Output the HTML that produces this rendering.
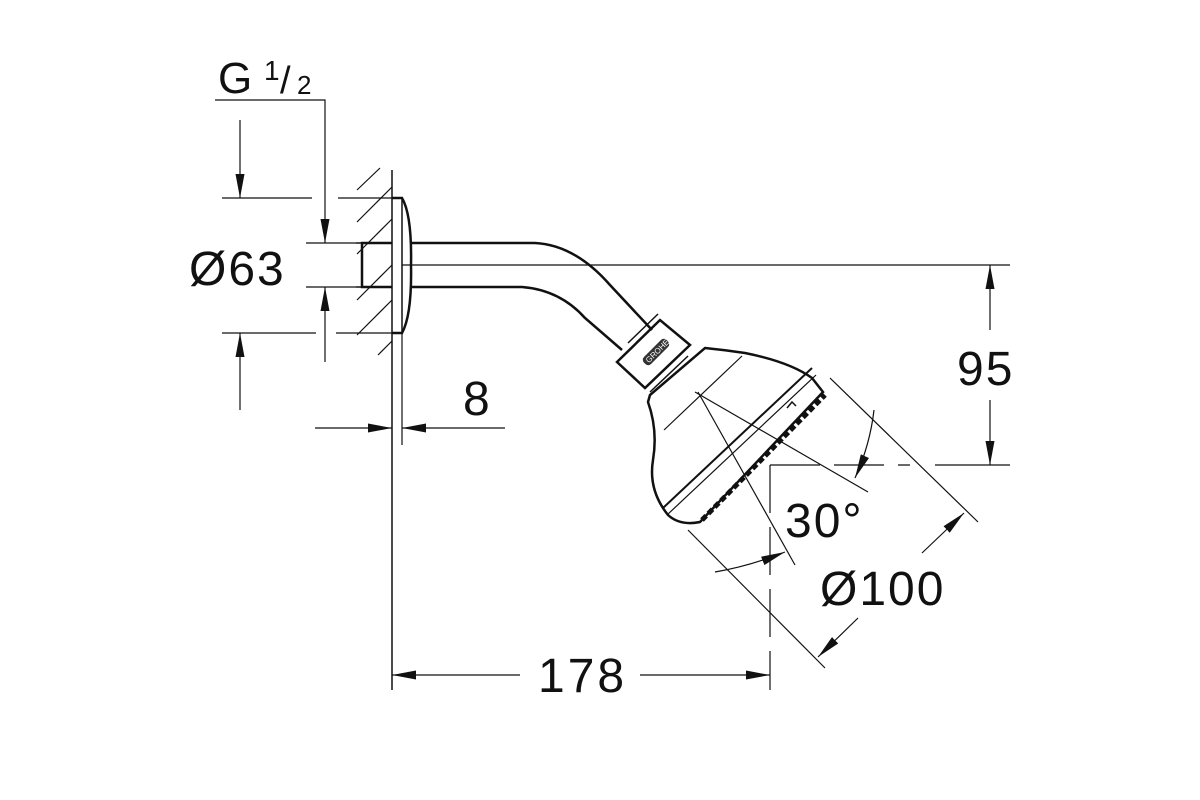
<!DOCTYPE html>
<html><head><style>
html,body{margin:0;padding:0;background:#fff;width:1200px;height:800px;overflow:hidden}
svg{display:block}
text{font-family:"Liberation Sans",sans-serif;fill:#111}
</style></head><body>
<svg width="1200" height="800" viewBox="0 0 1200 800">
<defs>
<marker id="a" viewBox="0 0 24 9" refX="24" refY="4.5" markerWidth="24" markerHeight="9" markerUnits="userSpaceOnUse" orient="auto"><path d="M0,0 L24,4.5 L0,9 Z" fill="#111"/></marker>
</defs>
<g stroke="#111" stroke-width="1.5" fill="none">
<line x1="392" y1="170" x2="392" y2="690"/>
<g stroke-width="1.2">
<line x1="357" y1="190" x2="380" y2="168"/>
<line x1="357" y1="222" x2="392" y2="187"/>
<line x1="357" y1="254" x2="392" y2="219"/>
<line x1="357" y1="300" x2="392" y2="265"/>
<line x1="357" y1="335" x2="392" y2="300"/>
<line x1="378" y1="355" x2="392" y2="341"/>
</g>
<path d="M392,243 L362,243 L362,287 L392,287" stroke-width="2.5"/>
<line x1="356" y1="243" x2="362" y2="243"/>
<line x1="356" y1="287" x2="362" y2="287"/>
<path d="M392,198 L402,198 Q412,215 411,265 Q412,315 402,333 L392,333" stroke-width="2.5"/>
<line x1="402" y1="198" x2="402" y2="333"/>
<path d="M411,243 L535,243 Q575,245 610,285 L652,330" stroke-width="2.5"/>
<path d="M411,287 L522,287 Q560,290 585,318 L622,350" stroke-width="2.5"/>
<path d="M617,362 L660,320 L690,345 L645,388 Z" stroke-width="2.5"/>
<line x1="628" y1="343" x2="658" y2="314"/>
<line x1="650" y1="392" x2="688" y2="356"/>
<path d="M648,402 L650,395 L705,348 Q725,350 745,353 Q790,362 812,378 L823,392 L700,522 Q680,526 668,515 Q648,490 653,460 Q658,430 648,402 Z" stroke-width="2.5"/>
<line x1="663" y1="508" x2="812" y2="368" stroke-width="2"/>
<line x1="667" y1="515" x2="816" y2="375" stroke-width="1.2"/>
<line x1="664" y1="430" x2="742" y2="356" stroke-width="1.2"/>
<path d="M702,520 L825,395" stroke-width="5" stroke-dasharray="6 3"/>
<path d="M787,408 l5,-6 l4,4" stroke-width="1.5"/>
<line x1="402" y1="265" x2="1010" y2="265" stroke-width="1.2"/>
<polyline points="215,100 325,100 325,243" stroke-width="1.2" marker-end="url(#a)"/>
<line x1="240" y1="120" x2="240" y2="198" stroke-width="1.2" marker-end="url(#a)"/>
<line x1="240" y1="410" x2="240" y2="333" stroke-width="1.2" marker-end="url(#a)"/>
<line x1="222" y1="198" x2="312" y2="198" stroke-width="1.2"/>
<line x1="338" y1="198" x2="392" y2="198" stroke-width="1.2"/>
<line x1="222" y1="333" x2="316" y2="333" stroke-width="1.2"/>
<line x1="336" y1="333" x2="392" y2="333" stroke-width="1.2"/>
<line x1="306" y1="243" x2="356" y2="243" stroke-width="1.2"/>
<line x1="306" y1="287" x2="356" y2="287" stroke-width="1.2"/>
<line x1="325" y1="362" x2="325" y2="287" stroke-width="1.2" marker-end="url(#a)"/>
<line x1="315" y1="428" x2="392" y2="428" stroke-width="1.2" marker-end="url(#a)"/>
<line x1="505" y1="428" x2="402" y2="428" stroke-width="1.2" marker-end="url(#a)"/>
<line x1="402" y1="333" x2="402" y2="445" stroke-width="1.2"/>
<line x1="935" y1="465" x2="1010" y2="465" stroke-width="1.2"/>
<line x1="990" y1="330" x2="990" y2="265" stroke-width="1.2" marker-end="url(#a)"/>
<line x1="990" y1="400" x2="990" y2="465" stroke-width="1.2" marker-end="url(#a)"/>
<line x1="770" y1="465" x2="910" y2="465" stroke-width="1.2" stroke-dasharray="50 14"/>
<line x1="770" y1="465" x2="770" y2="690" stroke-width="1.2" stroke-dasharray="48 14"/>
<line x1="520" y1="675" x2="392" y2="675" stroke-width="1.2" marker-end="url(#a)"/>
<line x1="640" y1="675" x2="770" y2="675" stroke-width="1.2" marker-end="url(#a)"/>
<line x1="695" y1="392" x2="868" y2="492" stroke-width="1.2"/>
<line x1="698" y1="392" x2="795" y2="565" stroke-width="1.2"/>
<path d="M874,410 Q870,445 855,478" stroke-width="1.2" marker-end="url(#a)"/>
<path d="M715,572 Q750,566 785,552" stroke-width="1.2" marker-end="url(#a)"/>
<line x1="830" y1="378" x2="978" y2="522" stroke-width="1.2"/>
<line x1="688" y1="530" x2="825" y2="668" stroke-width="1.2"/>
<line x1="922" y1="553" x2="964" y2="513" stroke-width="1.2" marker-end="url(#a)"/>
<line x1="858" y1="618" x2="818" y2="657" stroke-width="1.2" marker-end="url(#a)"/>
</g>
<text x="218" y="93" font-size="44">G</text>
<text x="264" y="80" font-size="28">1</text>
<text x="280" y="93" font-size="38">/</text>
<text x="297" y="94" font-size="26">2</text>
<text x="189" y="285" font-size="48" letter-spacing="2">Ø63</text>
<text x="463" y="415" font-size="48">8</text>
<text x="957" y="385" font-size="48" letter-spacing="2">95</text>
<text x="538" y="692" font-size="48" letter-spacing="3">178</text>
<text x="785" y="537" font-size="48" letter-spacing="2">30°</text>
<text x="820" y="605" font-size="48" letter-spacing="2">Ø100</text>
<g transform="translate(656,352) rotate(-45)"><rect x="-16" y="-5" width="32" height="10" rx="4" fill="#333"/><text x="-13" y="3" font-size="8" style="fill:#fff">GROHE</text></g>
</svg>
</body></html>
